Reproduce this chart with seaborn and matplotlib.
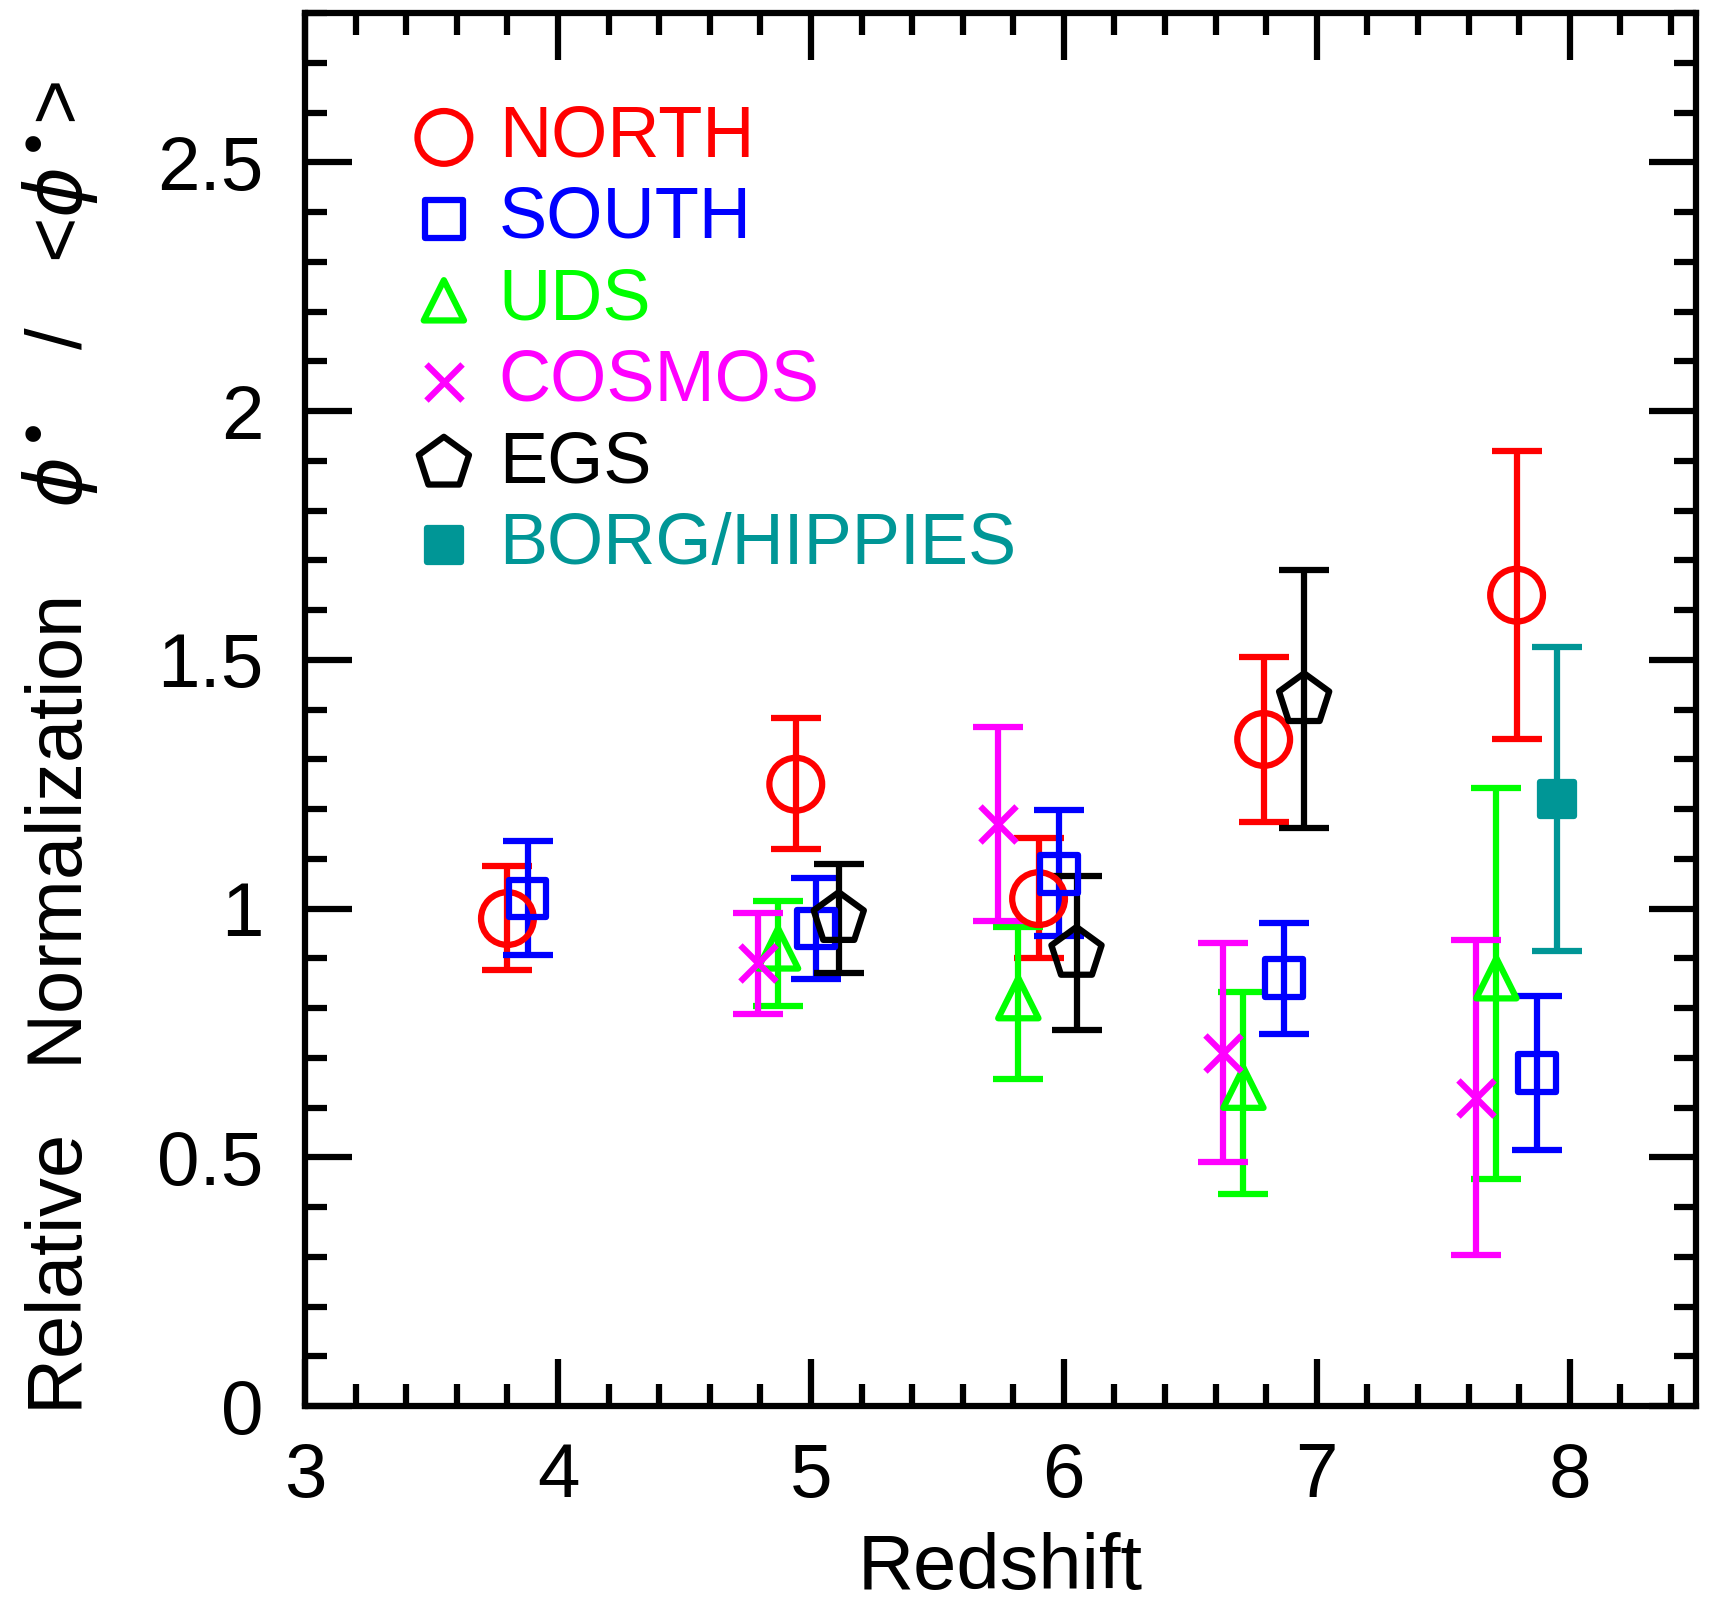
import numpy as np
import matplotlib
matplotlib.use("Agg")
import matplotlib.pyplot as plt
import seaborn as sns
from matplotlib.ticker import MultipleLocator, FormatStrFormatter

# Relative normalization phi*/<phi*> per field, with upper/lower error bounds
north_z   = [3.80, 4.94, 5.90, 6.79, 7.79]
north_phi = [0.98, 1.25, 1.02, 1.34, 1.63]
north_hi  = [1.086, 1.383, 1.142, 1.505, 1.920]
north_lo  = [0.876, 1.119, 0.900, 1.175, 1.340]

south_z   = [3.88, 5.02, 5.98, 6.87, 7.87]
south_phi = [1.02, 0.96, 1.07, 0.86, 0.67]
south_hi  = [1.135, 1.062, 1.198, 0.971, 0.825]
south_lo  = [0.906, 0.858, 0.944, 0.748, 0.514]

uds_z   = [4.87, 5.82, 6.71, 7.71]
uds_phi = [0.92, 0.82, 0.64, 0.86]
uds_hi  = [1.015, 0.964, 0.832, 1.242]
uds_lo  = [0.805, 0.658, 0.427, 0.457]

cosmos_z   = [4.79, 5.74, 6.63, 7.63]
cosmos_phi = [0.89, 1.17, 0.71, 0.62]
cosmos_hi  = [0.992, 1.365, 0.930, 0.937]
cosmos_lo  = [0.789, 0.975, 0.491, 0.303]

egs_z   = [5.11, 6.05, 6.95]
egs_phi = [0.98, 0.91, 1.42]
egs_hi  = [1.090, 1.066, 1.680]
egs_lo  = [0.870, 0.756, 1.163]

borg_z   = [7.95]
borg_phi = [1.22]
borg_hi  = [1.525]
borg_lo  = [0.915]

field_names = ["NORTH", "SOUTH", "UDS", "COSMOS", "EGS", "BORG/HIPPIES"]
xticks = [3, 4, 5, 6, 7, 8]

sns.set_theme(style="ticks")
plt.rcParams["font.family"] = ["Liberation Sans", "DejaVu Sans"]
plt.rcParams["mathtext.fontset"] = "dejavusans"

fig = plt.figure(figsize=(17.14, 16.02), dpi=100)
ax = fig.add_axes([0.178, 0.1223, 0.8116, 0.8695])

LW = 4.5
series = [
    # name, z, phi, hi, lo, color, marker, size, filled
    (field_names[0], north_z, north_phi, north_hi, north_lo, "#ff0000", "o", 38, False),
    (field_names[1], south_z, south_phi, south_hi, south_lo, "#0000ff", "s", 27, False),
    (field_names[2], uds_z, uds_phi, uds_hi, uds_lo, "#00ff00", "^", 29, False),
    (field_names[3], cosmos_z, cosmos_phi, cosmos_hi, cosmos_lo, "#ff00ff", "x", 26, False),
    (field_names[4], egs_z, egs_phi, egs_hi, egs_lo, "#000000", "p", 38, False),
    (field_names[5], borg_z, borg_phi, borg_hi, borg_lo, "#009696", "s", 25, True),
]

for name, z, phi, hi, lo, col, mk, size, filled in series:
    z = np.asarray(z)
    phi = np.asarray(phi)
    yerr = [phi - np.asarray(lo), np.asarray(hi) - phi]
    ax.errorbar(z, phi, yerr=yerr, fmt="none", ecolor=col, elinewidth=LW,
                capsize=18, capthick=LW, zorder=2)
    kws = dict(x=z, y=phi, marker=mk, s=size ** 2, color=col,
               linewidth=LW, label=name, ax=ax, zorder=3, legend=False)
    if mk != "x":
        kws["edgecolor"] = col
        kws["facecolor"] = col if filled else "none"
    sns.scatterplot(**kws)

ax.set_xlim(3, 8.5)
ax.set_ylim(0, 2.8)
ax.set_xticks(xticks)
ax.xaxis.set_minor_locator(MultipleLocator(0.2))
ax.yaxis.set_major_locator(MultipleLocator(0.5))
ax.yaxis.set_minor_locator(MultipleLocator(0.1))
ax.yaxis.set_major_formatter(FormatStrFormatter("%g"))

ax.tick_params(which="both", direction="in", top=True, right=True,
               color="black", width=4.5)
ax.tick_params(which="major", length=34, labelsize=55, pad=30, labelcolor="black")
ax.tick_params(which="minor", length=16)
ax.tick_params(axis="x", which="major", pad=26)
for sp in ax.spines.values():
    sp.set_color("black")
    sp.set_linewidth(4.5)
ax.grid(False)

fig.text(0.5837, 0.008, "Redshift", ha="center", va="baseline", fontsize=56,
         color="black")
fig.text(0.035, 0.533,
         r"Relative   Normalization    $\phi^{\bullet}$   /   <$\phi^{\bullet}$>",
         rotation=90, ha="center", va="center", fontsize=56, color="black")

leg = ax.legend(loc="upper left", bbox_to_anchor=(0.079, 0.9345), frameon=False,
                fontsize=52, handletextpad=0.36, labelspacing=0.2,
                borderaxespad=0, borderpad=0, handlelength=0.8,
                scatterpoints=1)
for text, s in zip(leg.get_texts(), series):
    text.set_color(s[5])

fig.savefig("out.png", dpi=100)
